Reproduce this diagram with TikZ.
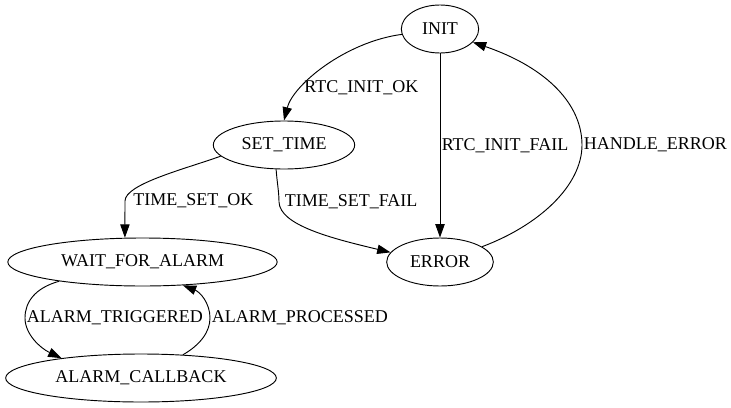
\documentclass[tikz,border=0pt]{standalone}
\usepackage{fontspec}
\setmainfont{Liberation Serif}
\usetikzlibrary{arrows.meta, shapes.geometric}

\begin{document}
\begin{tikzpicture}[
x=0.75pt, y=-0.75pt,
state/.style={
draw,
ellipse,
minimum height=36pt,
inner sep=0pt,
line width=0.7pt,
font=\fontsize{13.5}{16}\selectfont
},
arrow/.style={-{Triangle[length=10pt, width=7pt]}, line width=0.7pt},
lbl/.style={font=\fontsize{13.5}{16}\selectfont, inner sep=1pt}
]
\useasboundingbox (0,0) rectangle (731,407);

\node[state, minimum width=58pt] (init) at (440,29) {INIT};
\node[state, minimum width=106pt] (settime) at (284,145) {SET\_TIME};
\node[state, minimum width=80pt] (error) at (440,262) {ERROR};
\node[state, minimum width=202pt] (wait) at (142.5,262) {WAIT\_FOR\_ALARM};
\node[state, minimum width=203pt] (callback) at (141,378) {ALARM\_CALLBACK};

\draw[arrow] (init.188) .. controls (345,42) and (293,85) .. node[lbl, pos=0.7, right] {RTC\_INIT\_OK} (settime.north);
\draw[arrow] (init) -- node[lbl, right] {RTC\_INIT\_FAIL} (error);
\draw[arrow] (error.20) .. controls (540,225) and (582,185) .. (582,145) node[lbl, right] {HANDLE\_ERROR} .. controls (582,105) and (548,68) .. (init.338);

\draw[arrow] (settime.190) .. controls (185,169) and (125,184) .. (125,201) node[lbl, right, xshift=5pt] {TIME\_SET\_OK} -- (wait.126);
\draw[arrow] (settime.252) .. controls (277,182) and (279,192) .. (279,202) node[lbl, right, xshift=3pt] {TIME\_SET\_FAIL} .. controls (280,225) and (330,238) .. (error.169);

\draw[arrow] (wait.193) .. controls (35,288) and (25,302) .. (25,318) node[lbl, right] {ALARM\_TRIGGERED} .. controls (25,334) and (40,348) .. (callback.166);
\draw[arrow] (callback.29) .. controls (200,345) and (210,332) .. (210,318) node[lbl, right] {ALARM\_PROCESSED} .. controls (210,303) and (200,292) .. (wait.330);

\end{tikzpicture}
\end{document}
